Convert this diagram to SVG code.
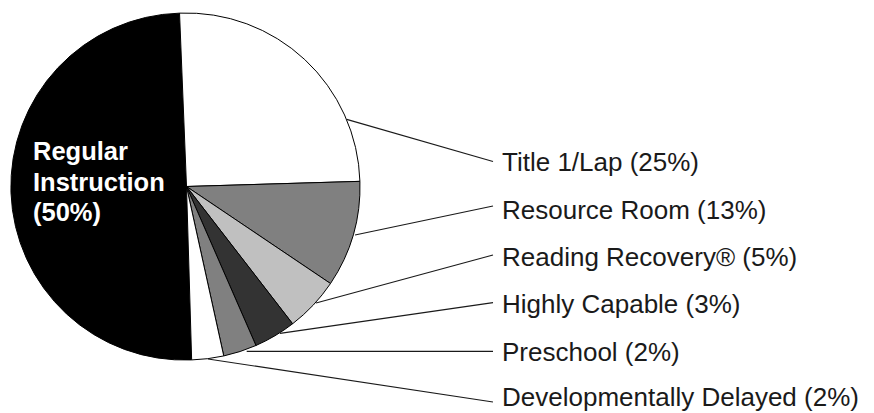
<svg xmlns="http://www.w3.org/2000/svg" width="874" height="413" viewBox="0 0 874 413">
<style>
.s{stroke:#000;stroke-width:1;stroke-linejoin:round}
.lead{stroke:#1a1a1a;stroke-width:1.2;fill:none}
.lab{font-family:"Liberation Sans",Arial,sans-serif;font-size:26px;fill:#1a1a1a}
.in{font-family:"Liberation Sans",Arial,sans-serif;font-size:25.5px;font-weight:bold;fill:#fff}
</style>
<rect width="874" height="413" fill="#fff"/>
<g id="regular-instruction">
<path class="s" fill="#000" d="M186.5,186.5 L191.65,359.92 A173.5,173.5 0 1 1 179.54,13.14 Z"/>
<text class="in" x="33" y="160">Regular</text>
<text class="in" x="33" y="191">Instruction</text>
<text class="in" x="33" y="221">(50%)</text>
</g>
<g id="title-1-lap">
<path class="s" fill="#fff" d="M186.5,186.5 L179.54,13.14 A173.5,173.5 0 0 1 359.92,181.35 Z"/>
<text class="lab" x="502" y="170.5">Title 1/Lap (25%)</text>
</g>
<g id="resource-room">
<path class="s" fill="#808080" d="M186.5,186.5 L359.92,181.35 A173.5,173.5 0 0 1 330.5,283.52 Z"/>
<text class="lab" x="502" y="219">Resource Room (13%)</text>
</g>
<g id="reading-recovery">
<path class="s" fill="#c0c0c0" d="M186.5,186.5 L330.5,283.52 A173.5,173.5 0 0 1 292.61,323.77 Z"/>
<text class="lab" x="502" y="266">Reading Recovery® (5%)</text>
</g>
<g id="highly-capable">
<path class="s" fill="#333" d="M186.5,186.5 L292.61,323.77 A173.5,173.5 0 0 1 255.96,345.49 Z"/>
<text class="lab" x="502" y="313">Highly Capable (3%)</text>
</g>
<g id="preschool">
<path class="s" fill="#808080" d="M186.5,186.5 L255.96,345.49 A173.5,173.5 0 0 1 223.76,355.95 Z"/>
<text class="lab" x="502" y="360.5">Preschool (2%)</text>
</g>
<g id="developmentally-delayed">
<path class="s" fill="#fff" d="M186.5,186.5 L223.76,355.95 A173.5,173.5 0 0 1 191.65,359.92 Z"/>
<text class="lab" x="502" y="406">Developmentally Delayed (2%)</text>
</g>
<g id="connectors">
<line class="lead" x1="346.7" y1="119.3" x2="493" y2="161.5"/>
<line class="lead" x1="355" y1="235" x2="493" y2="206"/>
<line class="lead" x1="316" y1="303" x2="493" y2="255"/>
<line class="lead" x1="280" y1="333.3" x2="493" y2="302.7"/>
<line class="lead" x1="246.7" y1="351.3" x2="493" y2="351.3"/>
<line class="lead" x1="208" y1="359" x2="493" y2="402"/>
</g>
</svg>
